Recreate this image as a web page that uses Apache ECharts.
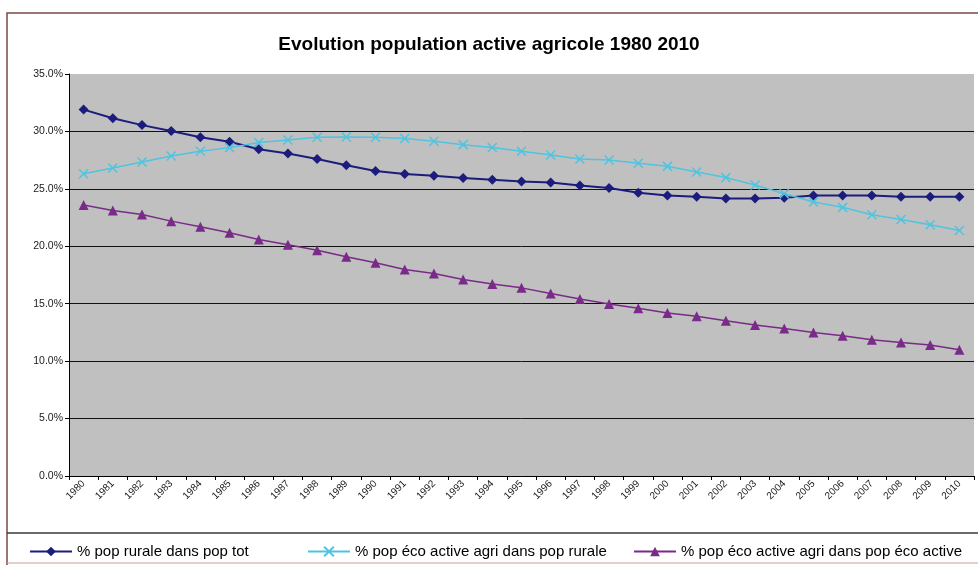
<!DOCTYPE html>
<html>
<head>
<meta charset="utf-8">
<script src="https://cdn.jsdelivr.net/npm/echarts@6/dist/echarts.min.js"></script>
<style>html,body{margin:0;padding:0;background:#fff;}#c{width:978px;height:565px;}</style>
</head>
<body>
<div id="c"></div>
<script>
const years = [];
for (let y = 1980; y <= 2010; y++) years.push(String(y));

const seriesNames = [
  '% pop rurale dans pop tot',
  '% pop éco active agri dans pop rurale',
  '% pop éco active agri dans pop éco active'
];

const popRurale = [31.9, 31.15, 30.55, 30.03, 29.5, 29.1, 28.45, 28.07, 27.6, 27.05, 26.55, 26.3, 26.15, 25.95, 25.8,
  25.65, 25.55, 25.3, 25.07, 24.67, 24.43, 24.32, 24.15, 24.17, 24.23, 24.43, 24.43, 24.43, 24.32, 24.32, 24.32];

const popAgriRurale = [26.32, 26.81, 27.34, 27.86, 28.27, 28.59, 29.03, 29.26, 29.49, 29.52, 29.49, 29.38, 29.14, 28.85, 28.6,
  28.27, 27.95, 27.6, 27.52, 27.23, 26.96, 26.47, 25.98, 25.33, 24.58, 23.85, 23.39, 22.75, 22.34, 21.88, 21.38];

const popAgriActive = [23.59, 23.12, 22.77, 22.19, 21.7, 21.17, 20.59, 20.13, 19.66, 19.08, 18.56, 17.97, 17.63, 17.1, 16.72,
  16.38, 15.88, 15.42, 14.98, 14.6, 14.2, 13.9, 13.52, 13.15, 12.85, 12.5, 12.22, 11.87, 11.63, 11.4, 10.99];

const chart = echarts.init(document.getElementById('c'), null, {renderer: 'canvas'});
const font = 'Liberation Sans, Arial, sans-serif';
const crossPath = 'path://M0,0L10,10M10,0L0,10';

const legendBase = {
  top: 539, itemWidth: 42, itemHeight: 12, itemGap: 6,
  textStyle: {fontFamily: font, fontSize: 15, color: '#000'}
};

chart.setOption({
  animation: false,
  backgroundColor: '#fff',
  title: {
    text: 'Evolution population active agricole 1980 2010',
    left: 'center', top: 30,
    textStyle: {fontFamily: font, fontSize: 19, fontWeight: 'bold', color: '#000'}
  },
  legend: [
    Object.assign({}, legendBase, {left: 24, data: [seriesNames[0]]}),
    Object.assign({}, legendBase, {left: 302, data: [seriesNames[1]]}),
    Object.assign({}, legendBase, {left: 628, data: [seriesNames[2]]})
  ],
  graphic: [
    {type: 'polyline', shape: {points: [[7, 565], [7, 13], [978, 13]]}, style: {stroke: '#7a4a40', lineWidth: 1.5, fill: null}, silent: true},
    {type: 'line', shape: {x1: 7, y1: 533, x2: 978, y2: 533}, style: {stroke: '#3a3a3a', lineWidth: 1.5}, silent: true},
    {type: 'line', shape: {x1: 7, y1: 563, x2: 978, y2: 563}, style: {stroke: '#c8a090', lineWidth: 1}, silent: true}
  ],
  grid: {left: 69, right: 4, top: 74, bottom: 89, show: true, backgroundColor: '#c0c0c0', borderWidth: 0},
  xAxis: {
    type: 'category',
    data: years,
    boundaryGap: true,
    axisLine: {lineStyle: {color: '#000', width: 1}},
    axisTick: {show: true, alignWithLabel: false, length: 4, lineStyle: {color: '#000'}},
    axisLabel: {interval: 0, rotate: 45, fontFamily: font, fontSize: 10, color: '#1a1a1a', margin: 6},
    splitLine: {show: false}
  },
  yAxis: {
    type: 'value',
    min: 0, max: 35, interval: 5,
    axisLine: {show: true, lineStyle: {color: '#000', width: 1}},
    axisTick: {show: true, length: 4, lineStyle: {color: '#000'}},
    axisLabel: {fontFamily: font, fontSize: 10.5, color: '#1a1a1a', margin: 6,
      formatter: v => v.toFixed(1) + '%'},
    splitLine: {show: true, lineStyle: {color: ['#111', '#111', '#111', '#111', '#111', '#111', '#111', '#c0c0c0'], width: 1}}
  },
  series: [
    {
      name: seriesNames[0], type: 'line', data: popRurale,
      symbol: 'diamond', symbolSize: 10,
      lineStyle: {color: '#1c1c7c', width: 2},
      itemStyle: {color: '#1c1c7c'}
    },
    {
      name: seriesNames[1], type: 'line', data: popAgriRurale,
      symbol: crossPath, symbolSize: 9,
      lineStyle: {color: '#4ec4e0', width: 1.5},
      itemStyle: {color: '#4ec4e0', borderColor: '#4ec4e0', borderWidth: 1.5}
    },
    {
      name: seriesNames[2], type: 'line', data: popAgriActive,
      symbol: 'triangle', symbolSize: 10,
      lineStyle: {color: '#7a2a88', width: 1.5},
      itemStyle: {color: '#7a2a88'}
    }
  ]
});
</script>
</body>
</html>
